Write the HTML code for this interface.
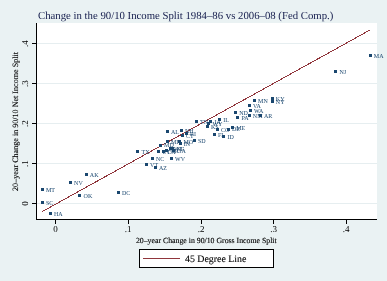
<!DOCTYPE html>
<html><head><meta charset="utf-8"><style>
html,body{margin:0;padding:0;background:#EAF2F3;}
svg{display:block;will-change:transform;}
text{font-family:"Liberation Serif",serif;text-rendering:geometricPrecision;}
.ti{font-size:10.75px;fill:#141C4C;}
.ax{font-size:7.8px;fill:#000;stroke:#000;stroke-width:0.12px;}
.ay{font-size:8.1px;fill:#000;stroke:#000;stroke-width:0.12px;}
.tk{font-size:9px;fill:#000;}
.lg{font-size:9.9px;fill:#000;stroke:#000;stroke-width:0.1px;}
.ml{font-size:6px;fill:#1A476F;}
</style></head><body>
<svg width="387" height="281" viewBox="0 0 387 281">
<rect x="0" y="0" width="387" height="281" fill="#EAF2F3"/>
<rect x="37" y="23" width="340" height="196" fill="#fff"/>
<rect x="37" y="203" width="340" height="1" fill="#E6EEF0"/>
<rect x="37" y="163" width="340" height="1" fill="#E6EEF0"/>
<rect x="37" y="123" width="340" height="1" fill="#E6EEF0"/>
<rect x="37" y="83" width="340" height="1" fill="#E6EEF0"/>
<rect x="37" y="43" width="340" height="1" fill="#E6EEF0"/>
<rect x="36" y="23" width="1" height="197" fill="#000"/>
<rect x="36" y="219" width="341" height="1" fill="#000"/>
<rect x="32" y="203" width="4" height="1" fill="#000"/>
<rect x="55" y="220" width="1" height="4" fill="#000"/>
<text x="55.5" y="232" text-anchor="middle" class="tk">0</text>
<text transform="translate(27.5,203.5) rotate(-90)" x="0" y="0" text-anchor="middle" class="tk">0</text>
<rect x="32" y="163" width="4" height="1" fill="#000"/>
<rect x="128" y="220" width="1" height="4" fill="#000"/>
<text x="128.2" y="232" text-anchor="middle" class="tk">.1</text>
<text transform="translate(27.5,163.5) rotate(-90)" x="0" y="0" text-anchor="middle" class="tk">.1</text>
<rect x="32" y="123" width="4" height="1" fill="#000"/>
<rect x="201" y="220" width="1" height="4" fill="#000"/>
<text x="201.2" y="232" text-anchor="middle" class="tk">.2</text>
<text transform="translate(27.5,123.5) rotate(-90)" x="0" y="0" text-anchor="middle" class="tk">.2</text>
<rect x="32" y="83" width="4" height="1" fill="#000"/>
<rect x="273" y="220" width="1" height="4" fill="#000"/>
<text x="273.6" y="232" text-anchor="middle" class="tk">.3</text>
<text transform="translate(27.5,83.5) rotate(-90)" x="0" y="0" text-anchor="middle" class="tk">.3</text>
<rect x="32" y="43" width="4" height="1" fill="#000"/>
<rect x="346" y="220" width="1" height="4" fill="#000"/>
<text x="346.0" y="232" text-anchor="middle" class="tk">.4</text>
<text transform="translate(27.5,43.5) rotate(-90)" x="0" y="0" text-anchor="middle" class="tk">.4</text>
<text x="38" y="19" class="ti">Change in the 90/10 Income Split 1984–86 vs 2006–08 (Fed Comp.)</text>
<text x="206.3" y="242.5" text-anchor="middle" class="ax">20–year Change in 90/10 Gross Income Split</text>
<text transform="translate(17.5,121.5) rotate(-90)" text-anchor="middle" class="ay">20–year Change in 90/10 Net Income Split</text>
<line x1="42" y1="211.7" x2="370" y2="30" stroke="#90353B" stroke-width="1" shape-rendering="crispEdges"/>
<rect x="49" y="212" width="3" height="3" fill="#1A476F"/>
<rect x="41" y="201" width="3" height="3" fill="#1A476F"/>
<rect x="41" y="188" width="3" height="3" fill="#1A476F"/>
<rect x="69" y="181" width="3" height="3" fill="#1A476F"/>
<rect x="78" y="194" width="3" height="3" fill="#1A476F"/>
<rect x="85" y="173" width="3" height="3" fill="#1A476F"/>
<rect x="117" y="191" width="3" height="3" fill="#1A476F"/>
<rect x="136" y="150" width="3" height="3" fill="#1A476F"/>
<rect x="151" y="157" width="3" height="3" fill="#1A476F"/>
<rect x="145" y="163" width="3" height="3" fill="#1A476F"/>
<rect x="154" y="166" width="3" height="3" fill="#1A476F"/>
<rect x="170" y="157" width="3" height="3" fill="#1A476F"/>
<rect x="166" y="130" width="3" height="3" fill="#1A476F"/>
<rect x="180" y="129" width="3" height="3" fill="#1A476F"/>
<rect x="181" y="134" width="3" height="3" fill="#1A476F"/>
<rect x="185" y="132" width="3" height="3" fill="#1A476F"/>
<rect x="166" y="140" width="3" height="3" fill="#1A476F"/>
<rect x="159" y="144" width="3" height="3" fill="#1A476F"/>
<rect x="178" y="140" width="3" height="3" fill="#1A476F"/>
<rect x="179" y="142" width="3" height="3" fill="#1A476F"/>
<rect x="193" y="139" width="3" height="3" fill="#1A476F"/>
<rect x="157" y="150" width="3" height="3" fill="#1A476F"/>
<rect x="162" y="150" width="3" height="3" fill="#1A476F"/>
<rect x="165" y="149" width="3" height="3" fill="#1A476F"/>
<rect x="169" y="147" width="3" height="3" fill="#1A476F"/>
<rect x="171" y="147" width="3" height="3" fill="#1A476F"/>
<rect x="172" y="149" width="3" height="3" fill="#1A476F"/>
<rect x="195" y="120" width="3" height="3" fill="#1A476F"/>
<rect x="218" y="118" width="3" height="3" fill="#1A476F"/>
<rect x="209" y="120" width="3" height="3" fill="#1A476F"/>
<rect x="207" y="122" width="3" height="3" fill="#1A476F"/>
<rect x="206" y="125" width="3" height="3" fill="#1A476F"/>
<rect x="216" y="128" width="3" height="3" fill="#1A476F"/>
<rect x="213" y="133" width="3" height="3" fill="#1A476F"/>
<rect x="222" y="135" width="3" height="3" fill="#1A476F"/>
<rect x="227" y="128" width="3" height="3" fill="#1A476F"/>
<rect x="231" y="126" width="3" height="3" fill="#1A476F"/>
<rect x="234" y="111" width="3" height="3" fill="#1A476F"/>
<rect x="236" y="116" width="3" height="3" fill="#1A476F"/>
<rect x="248" y="114" width="3" height="3" fill="#1A476F"/>
<rect x="248" y="104" width="3" height="3" fill="#1A476F"/>
<rect x="249" y="109" width="3" height="3" fill="#1A476F"/>
<rect x="259" y="114" width="3" height="3" fill="#1A476F"/>
<rect x="253" y="99" width="3" height="3" fill="#1A476F"/>
<rect x="271" y="97" width="3" height="3" fill="#1A476F"/>
<rect x="271" y="100" width="3" height="3" fill="#1A476F"/>
<rect x="334" y="70" width="3" height="3" fill="#1A476F"/>
<rect x="369" y="54" width="3" height="3" fill="#1A476F"/>
<text x="53.9" y="215.8" class="ml">HA</text>
<text x="45.9" y="204.5" class="ml">SC</text>
<text x="45.9" y="192.3" class="ml">MT</text>
<text x="74.1" y="184.6" class="ml">NV</text>
<text x="83.6" y="197.8" class="ml">OK</text>
<text x="89.8" y="176.6" class="ml">AK</text>
<text x="121.9" y="194.6" class="ml">DC</text>
<text x="141.6" y="153.9" class="ml">TX</text>
<text x="156.0" y="160.8" class="ml">NC</text>
<text x="150.1" y="166.6" class="ml">VT</text>
<text x="159.0" y="169.5" class="ml">AZ</text>
<text x="175.1" y="160.6" class="ml">WV</text>
<text x="171.0" y="133.5" class="ml">AL</text>
<text x="185.0" y="132.6" class="ml">NH</text>
<text x="186.0" y="137.9" class="ml">CT</text>
<text x="190.1" y="135.6" class="ml">RI</text>
<text x="171.0" y="143.5" class="ml">MI</text>
<text x="164.1" y="147.4" class="ml">MD</text>
<text x="183.4" y="143.5" class="ml">MO</text>
<text x="183.8" y="146.1" class="ml">IN</text>
<text x="198.0" y="143.2" class="ml">SD</text>
<text x="162.2" y="153.7" class="ml">UT</text>
<text x="167.2" y="154.3" class="ml">CA</text>
<text x="170.5" y="152.5" class="ml">OR</text>
<text x="174.1" y="150.9" class="ml">WI</text>
<text x="176.4" y="150.5" class="ml">NE</text>
<text x="177.1" y="152.5" class="ml">GA</text>
<text x="200.1" y="123.8" class="ml">TN</text>
<text x="223.2" y="121.7" class="ml">IL</text>
<text x="214.4" y="124.3" class="ml">IA</text>
<text x="212.4" y="126.3" class="ml">WY</text>
<text x="210.9" y="128.8" class="ml">KS</text>
<text x="221.0" y="132.3" class="ml">CO</text>
<text x="217.9" y="136.6" class="ml">FL</text>
<text x="227.6" y="138.5" class="ml">ID</text>
<text x="232.0" y="131.4" class="ml">DE</text>
<text x="236.2" y="130.3" class="ml">ME</text>
<text x="239.2" y="114.8" class="ml">ND</text>
<text x="241.5" y="120.3" class="ml">PA</text>
<text x="252.8" y="118.2" class="ml">NM</text>
<text x="253.0" y="108.3" class="ml">VA</text>
<text x="254.1" y="112.6" class="ml">WA</text>
<text x="264.0" y="118.3" class="ml">AR</text>
<text x="258.1" y="103.0" class="ml">MN</text>
<text x="275.8" y="101.2" class="ml">KY</text>
<text x="275.8" y="103.5" class="ml">NY</text>
<text x="339.4" y="73.9" class="ml">NJ</text>
<text x="373.8" y="57.6" class="ml">MA</text>
<rect x="139.5" y="249.5" width="134" height="18" fill="#fff" stroke="#000" stroke-width="1"/>
<line x1="143" y1="258.5" x2="180" y2="258.5" stroke="#90353B" stroke-width="1"/>
<text x="185" y="261.5" class="lg">45 Degree Line</text>
</svg></body></html>
